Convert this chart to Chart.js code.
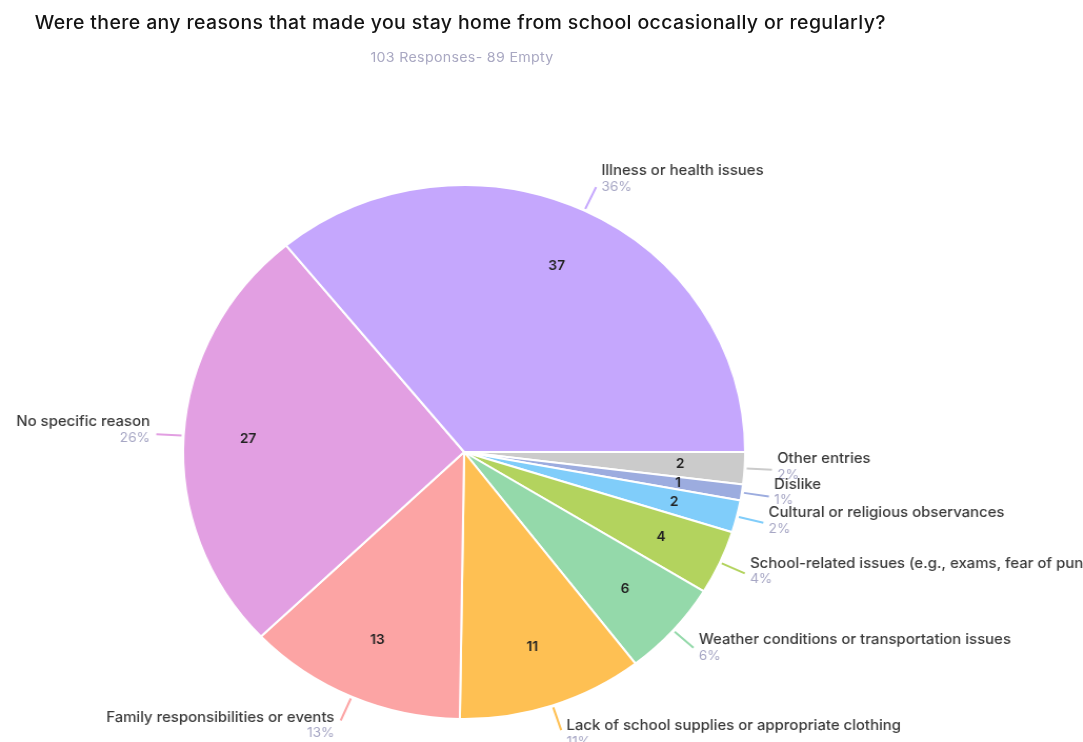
<!DOCTYPE html>
<html>
<head>
<meta charset="utf-8">
<script src="https://cdn.jsdelivr.net/npm/chart.js@4/dist/chart.umd.min.js"></script>
<style>
  html, body { margin: 0; padding: 0; background: #fff; overflow: hidden; }
  #page { position: relative; width: 1029px; height: 742px; transform: scaleX(1.0524); transform-origin: 0 0; }
  #title { position: absolute; left: 33px; top: 11px; font: 500 18.5px Inter, sans-serif; letter-spacing: 0.35px; color: #141414; white-space: nowrap; }
  #subtitle { position: absolute; left: 352px; top: 49px; font: 400 13.5px Inter, sans-serif; letter-spacing: 0.3px; color: #a9a8c2; white-space: nowrap; }
  canvas { position: absolute; left: 0; top: 0; }
</style>
</head>
<body>
<div id="page">
  <div id="title">Were there any reasons that made you stay home from school occasionally or regularly?</div>
  <div id="subtitle">103 Responses- 89 Empty</div>
  <canvas id="reasons" width="1029" height="742"></canvas>
</div>
<script>
// Slices run clockwise from 3 o'clock
const reasons = [
  'Other entries',
  'Dislike',
  'Cultural or religious observances',
  'School-related issues (e.g., exams, fear of punishment)',
  'Weather conditions or transportation issues',
  'Lack of school supplies or appropriate clothing',
  'Family responsibilities or events',
  'No specific reason',
  'Illness or health issues'
];
const counts = [2, 1, 2, 4, 6, 11, 13, 27, 37];
const colors = ['#cbcbcb', '#9cacdf', '#80cdfa', '#b3d35e', '#94d9aa', '#fec053', '#fca4a4', '#e29fe2', '#c5a7fd'];
// vertical nudge of each name label relative to its leader end
const nameShift = [-11, -12, -10, -10, -8, -4, -3, -12, -16];

const total = counts.reduce((a, b) => a + b, 0);

const sliceLabels = {
  id: 'sliceLabels',
  afterDatasetsDraw(chart) {
    const ctx = chart.ctx;
    const meta = chart.getDatasetMeta(0);
    ctx.save();
    meta.data.forEach((arc, i) => {
      const { x, y, startAngle, endAngle, outerRadius } =
        arc.getProps(['x', 'y', 'startAngle', 'endAngle', 'outerRadius'], true);
      const mid = (startAngle + endAngle) / 2;
      const cos = Math.cos(mid), sin = Math.sin(mid);

      // count inside the slice
      ctx.font = '600 13px Inter, sans-serif';
      ctx.fillStyle = '#222';
      ctx.textAlign = 'center';
      ctx.textBaseline = 'middle';
      ctx.fillText(String(counts[i]), x + cos * outerRadius * 0.77, y + sin * outerRadius * 0.77);

      // leader line
      const x0 = x + cos * (outerRadius + 2), y0 = y + sin * (outerRadius + 2);
      const x1 = x + cos * (outerRadius + 26), y1 = y + sin * (outerRadius + 26);
      ctx.strokeStyle = colors[i];
      ctx.lineWidth = 2;
      ctx.beginPath();
      ctx.moveTo(x0, y0);
      ctx.lineTo(x1, y1);
      ctx.stroke();

      // name + share
      const right = cos >= 0;
      const tx = right ? x1 + 5 : x1 - 6;
      const ny = y1 + nameShift[i];
      ctx.textAlign = right ? 'left' : 'right';
      ctx.font = '500 14.2px Inter, sans-serif';
      ctx.fillStyle = '#3a3a3a';
      ctx.fillText(reasons[i], tx, ny);
      ctx.font = '400 13px Inter, sans-serif';
      ctx.fillStyle = '#a6a6c4';
      ctx.fillText(Math.round(counts[i] / total * 100) + '%', tx, ny + 16);
    });
    ctx.restore();
  }
};

new Chart(document.getElementById('reasons'), {
  type: 'pie',
  data: {
    labels: reasons,
    datasets: [{
      data: counts,
      backgroundColor: colors,
      borderColor: '#fff',
      borderWidth: 2
    }]
  },
  options: {
    responsive: false,
    animation: false,
    rotation: 90,
    layout: { padding: { top: 184, bottom: 22, left: 173, right: 320 } },
    events: [],
    plugins: {
      legend: { display: false },
      tooltip: { enabled: false }
    }
  },
  plugins: [sliceLabels]
});
</script>
</body>
</html>
